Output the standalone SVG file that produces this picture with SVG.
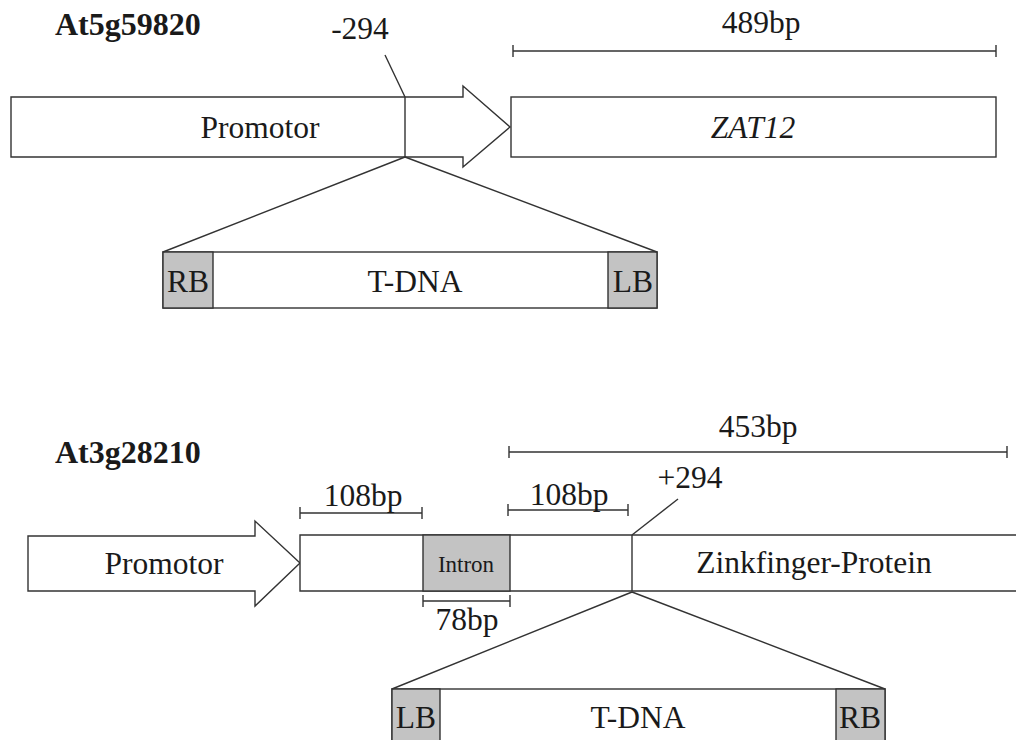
<svg xmlns="http://www.w3.org/2000/svg" width="1016" height="740" viewBox="0 0 1016 740">
<style>
  .ln{fill:none;stroke:#333;stroke-width:1.4}
  .box{fill:#fff;stroke:#333;stroke-width:1.4}
  .gray{fill:#c3c3c3;stroke:#333;stroke-width:1.4}
  .t{font-family:"Liberation Serif","Times New Roman",serif;font-size:31.5px;fill:#1a1a1a;text-anchor:middle}
  .b{font-weight:bold;text-anchor:start;font-size:32px}
  .i{font-style:italic}
  .s{font-size:23px}
</style>
<rect width="1016" height="740" fill="#fff"/>

<!-- Top gene -->
<text class="t b" x="55" y="35">At5g59820</text>
<g id="top-promotor">
  <polygon class="box" points="11,97 463,97 463,86 510,127 463,167 463,157 11,157"/>
  <text class="t" x="260" y="138">Promotor</text>
</g>
<g id="top-zat12">
  <rect class="box" x="511" y="97" width="485" height="60"/>
  <text class="t i" x="753" y="138">ZAT12</text>
</g>
<g id="top-scale">
  <path class="ln" d="M513,51H996M513,45V57M996,45V57"/>
  <text class="t" x="761" y="33">489bp</text>
</g>
<g id="top-site">
  <path class="ln" d="M405,97V157M405,97L385,55"/>
  <text class="t" x="360" y="39">-294</text>
</g>
<g id="top-tdna">
  <rect class="box" x="163" y="252" width="494" height="56"/>
  <rect class="gray" x="163" y="252" width="50" height="56"/>
  <rect class="gray" x="608" y="252" width="49" height="56"/>
  <text class="t" x="188" y="292">RB</text>
  <text class="t" x="415" y="292">T-DNA</text>
  <text class="t" x="633" y="292">LB</text>
</g>

<!-- Bottom gene -->
<text class="t b" x="55" y="463">At3g28210</text>
<g id="bot-promotor">
  <polygon class="box" points="28,536 255,536 255,521 300,563 255,606 255,591 28,591"/>
  <text class="t" x="164" y="574">Promotor</text>
</g>
<g id="bot-gene">
  <path class="box" d="M1020,535H300V591H1020"/>
  <rect class="gray" x="423" y="535" width="87" height="56"/>
  <text class="t s" x="466" y="572">Intron</text>
  <path class="ln" d="M632,535V591"/>
  <text class="t" x="814" y="573">Zinkfinger-Protein</text>
</g>
<g id="bot-scales">
  <path class="ln" d="M509,452H1007M509,446V458M1007,446V458"/>
  <text class="t" x="758" y="437">453bp</text>
  <path class="ln" d="M300,513H422M300,507V519M422,507V519"/>
  <text class="t" x="363" y="506">108bp</text>
  <path class="ln" d="M508,510H628M508,504V516M628,504V516"/>
  <text class="t" x="569" y="505">108bp</text>
  <path class="ln" d="M423,601H510M423,595V607M510,595V607"/>
  <text class="t" x="467" y="630">78bp</text>
</g>
<g id="bot-site">
  <path class="ln" d="M632,535L678,499"/>
  <text class="t" x="690" y="488">+294</text>
</g>
<g id="bot-tdna">
  <rect class="box" x="392" y="689" width="493" height="60"/>
  <rect class="gray" x="392" y="689" width="48" height="60"/>
  <rect class="gray" x="836" y="689" width="49" height="60"/>
  <text class="t" x="416" y="728">LB</text>
  <text class="t" x="638" y="728">T-DNA</text>
  <text class="t" x="860" y="728">RB</text>
</g>

<g id="connectors">
  <path class="ln" d="M405,157L163,252M405,157L657,252"/>
  <path class="ln" d="M632,592L392,689M632,592L885,689"/>
</g>
</svg>
